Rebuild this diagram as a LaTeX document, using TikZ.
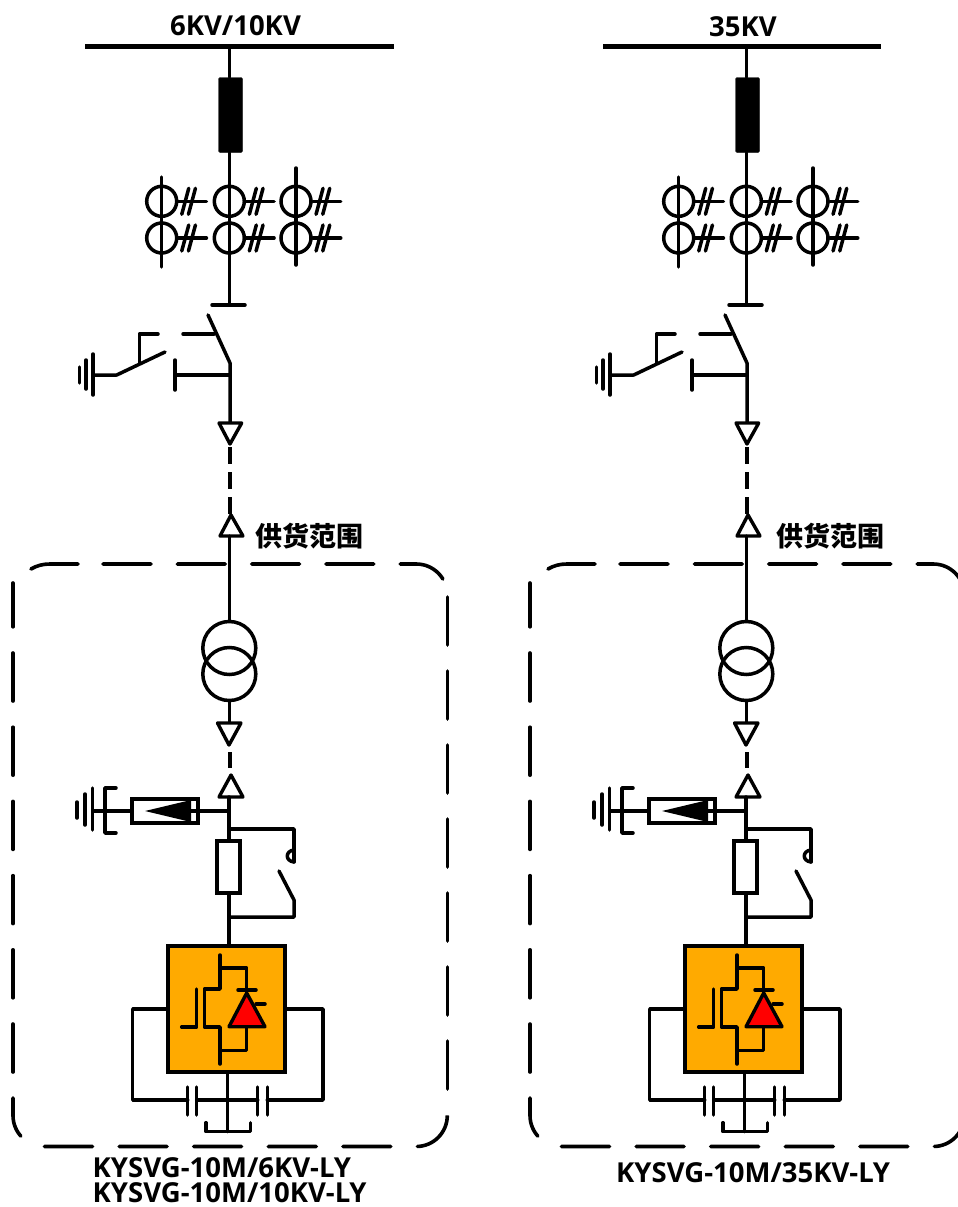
\documentclass[tikz,border=0pt]{standalone}
\usepackage{fontspec}
\setmainfont{Open Sans}
\newfontfamily\cjkfont{Noto Sans CJK SC}
\usetikzlibrary{positioning}
\definecolor{vscorange}{RGB}{255,170,0}

\begin{document}
\begin{tikzpicture}[x=1pt,y=-1pt,
    wire/.style={line width=3.5pt,line cap=round,line join=round},
    busbar/.style={fill=black,inner sep=0pt,minimum height=5.5pt},
    fusebox/.style={fill=black,draw,rounded corners=1.5pt,inner sep=0pt,minimum width=24pt,minimum height=75pt},
    ctcoil/.style={circle,draw,line width=3.5pt,inner sep=0pt,minimum size=30pt},
    tfcoil/.style={circle,draw,line width=3.5pt,inner sep=0pt,minimum size=53pt},
    resbox/.style={draw,fill=white,line width=3.2pt,inner sep=0pt,minimum width=23pt,minimum height=52pt},
    vscbox/.style={draw,fill=vscorange,line width=3.4pt,inner sep=0pt,minimum width=117pt,minimum height=126pt},
    tipmark/.style={draw,fill=white,line width=3.4pt,line join=round},
    scopebox/.style={line width=3.6pt,line cap=round},
    lab/.style={font=\bfseries\fontsize{27.5}{24.5}\selectfont,inner sep=0pt},
    cnlab/.style={font=\cjkfont\bfseries\fontsize{27}{29}\selectfont,inner sep=0pt}]
  \clip (0,0) rectangle (958,1207);

  % busbars and texts
  \node [busbar, minimum width=309pt] (busa) at (239.5,46.5) {};
  \node [busbar, minimum width=278pt] (busb) at (742,46.5) {};
  \node [lab] (vola) at (235.5,26) {6KV/10KV};
  \node [lab] (volb) at (743,27) {35KV};
  \node [cnlab] (rangea) at (309,536) {供货范围};
  \node [cnlab] (rangeb) at (830,536) {供货范围};
  \node [lab, anchor=west, align=left] (typea) at (92.5,1180) {KYSVG-10M/6KV-LY\\KYSVG-10M/10KV-LY};
  \node [lab, anchor=west] (typec) at (616,1172.5) {KYSVG-10M/35KV-LY};

  \foreach \cc/\dx/\busn in {a/0/busa,b/517/busb} {
  \begin{scope}[xshift=\dx pt]
    % supply range frame
    \draw [scopebox] (31,569) .. controls (37,565.5) and (43,564) .. (50,564) -- (78,564);
    \draw [scopebox, rounded corners=31pt, dash pattern=on 48pt off 26.3pt]
      (103,564) -- (447.3,564) -- (447.3,595);
    \draw [scopebox, dash pattern=on 48pt off 26pt] (447.3,597) -- (447.3,1089);
    \draw [scopebox, rounded corners=31pt, dash pattern=on 48pt off 26.6pt]
      (447.3,1116) -- (447.3,1146.5) -- (13,1146.5) -- (13,1098);
    \draw [scopebox, dash pattern=on 48pt off 26.2pt] (13,1072) -- (13,583);

    % feeder down to the breaker
    \node [fusebox] (fuse\cc) at (230.5,115) {};
    \coordinate (stop\cc) at (229.3,305);
    \draw [wire] (\busn.south -| stop\cc) -- (stop\cc |- fuse\cc.north);
    \draw [wire] (stop\cc |- fuse\cc.south) -- (stop\cc);
    \draw [wire] (212,305) -- (245,305);
    \foreach \x/\n/\ya/\yb in {161.7/1/177/267,229.3/2/201/238,296/3/168/265} {
      \node [ctcoil] (ct\cc\n u) at (\x,201.3) {};
      \node [ctcoil] (ct\cc\n d) at (\x,238) {};
      \draw [wire] (\x,\ya) -- (\x,\yb);
      \foreach \k in {u,d} {
        \draw [wire] (ct\cc\n\k.east) -- ++(28,0);
        \draw [wire] ([xshift=10.3pt,yshift=13pt]ct\cc\n\k.east) -- ++(-7,26);
        \draw [wire] ([xshift=17pt,yshift=13pt]ct\cc\n\k.east) -- ++(-7,26);
      }
    }

    % disconnector with earth switch
    \coordinate (hinge\cc) at (230,363);
    \coordinate (tapa\cc) at (230,375);
    \draw [wire] (208,315) -- (hinge\cc) -- (230,423);
    \draw [wire] (tapa\cc) -- (175,375);
    \draw [wire] (175,360) -- (175,390);
    \draw [wire] (183,334) -- (214,334);
    \draw [wire] (93,375) -- (116.7,375) -- (165,352);
    \draw [wire] (139.3,363) -- (139.3,334) -- (158,334);
    \draw [wire] (79.3,367) -- (79.3,383);
    \draw [wire] (86,360) -- (86,389);
    \draw [wire] (93,354) -- (93,395);

    % plug-in contacts, upper pair
    \draw [tipmark] (219,423) -- (241.7,423) -- (230,444) -- cycle;
    \draw [line width=3.5pt, dash pattern=on 17pt off 8pt] (230,447) -- (230,515);
    \draw [tipmark] (231,515) -- (243,536) -- (220,536) -- cycle;

    % transformer
    \node [tfcoil] (tfu\cc) at (229.3,648) {};
    \node [tfcoil] (tfd\cc) at (229.3,674) {};
    \draw [wire] (229.3,536) -- (tfu\cc.north);
    \draw [wire] (tfd\cc.south) -- (229.3,723);

    % plug-in contacts, lower pair
    \draw [tipmark] (217.5,723) -- (241,723) -- (229,745) -- cycle;
    \draw [line width=3.5pt] (230,752) -- (230,768);
    \draw [tipmark] (231,775) -- (243,797) -- (219,797) -- cycle;

    % arrester to earth
    \node [draw, fill=white, line width=3.2pt, inner sep=0pt, minimum width=66pt, minimum height=24pt] (arr\cc) at (165,811) {};
    \coordinate (tee\cc) at (229,811);
    \draw [wire] (tee\cc) -- (arr\cc.east);
    \fill (145,811) -- (191,800) -- (191,822) -- cycle;
    \draw [line width=3.2pt] (190,811) -- (197,811);
    \draw [wire] (arr\cc.west) -- (93,811);
    \draw [wire] (116,788) -- (105,788) -- (105,833) -- (116,833);
    \draw [wire] (77,802) -- (77,818);
    \draw [wire] (85,794) -- (85,825);
    \draw [wire] (92.3,788) -- (92.3,830);

    % resistor with bypass contact
    \node [resbox] (res\cc) at (228.5,867) {};
    \node [vscbox] (vsc\cc) at (226.5,1009) {};
    \draw [wire] (229,797) -- (res\cc.north -| tee\cc);
    \draw [wire] (res\cc.south -| tee\cc) -- (vsc\cc.north -| tee\cc);
    \draw [wire] (229,829) -- (294,829) -- (294,862);
    \draw [wire] (294,850) .. controls (285,851) and (285,861) .. (294,862);
    \draw [wire] (279,871) -- (294,900) -- (294,917) -- (229,917);

    % converter valve
    \draw [wire] (220,955) -- (220,989) -- (204.3,989) -- (204.3,1027) -- (220,1027) -- (220,1064);
    \draw [wire] (220,968) -- (246.7,968) -- (246.7,990);
    \draw [wire] (220,1050.7) -- (246.7,1050.7) -- (246.7,1027);
    \draw [wire] (181.7,1027) -- (196.7,1027) -- (196.7,989);
    \draw [wire] (238,990) -- (256,990);
    \draw [wire] (256,1004) -- (265,1004);
    \draw [draw=black, fill=red, line width=3.4pt, line join=round] (246.7,993) -- (265,1026.7) -- (229,1026.7) -- cycle;

    % dc capacitors
    \coordinate (mid\cc) at (227.7,1100);
    \draw [wire] (vsc\cc.south -| mid\cc) -- (227.7,1131.7);
    \draw [wire] (206,1122.7) -- (206,1131.7) -- (250.7,1131.7) -- (250.7,1122.7);
    \draw [wire] (vsc\cc.west |- 0,1009) -- (132.7,1009) -- (132.7,1100) -- (187.7,1100);
    \draw [wire] (vsc\cc.east |- 0,1009) -- (323,1009) -- (323,1100) -- (267.3,1100);
    \draw [wire] (196.7,1100) -- (257.7,1100);
    \foreach \x in {187.7,196.7,257.7,267.3} {
      \draw [wire] (\x,1087) -- (\x,1115);
    }
  \end{scope}
  }
\end{tikzpicture}
\end{document}
